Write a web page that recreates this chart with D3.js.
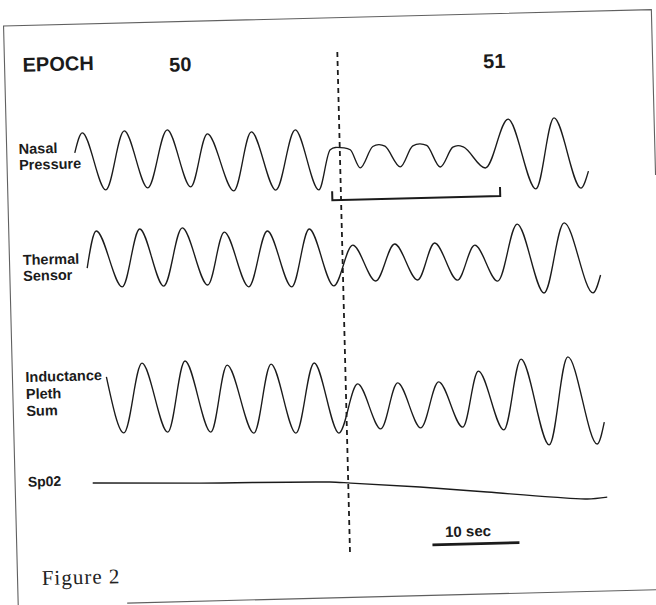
<!DOCTYPE html>
<html>
<head>
<meta charset="utf-8">
<script src="https://cdn.jsdelivr.net/npm/d3@7"></script>
<style>
  body { margin: 0; background: #fff; }
  svg { display: block; }
</style>
</head>
<body>
<svg id="chart" width="656" height="605"></svg>
<script>
// values: [seconds from start of epoch 50, amplitude]
const nasalPressure = [[-0.46,0.33],[0.46,0.99],[2.99,-0.93],[5.29,1.02],[7.82,-0.9],[10.23,1.02],[12.76,-0.9],
  [14.83,0.85],[17.7,-1.07],[19.89,0.88],[22.53,-1.08],[24.94,0.91],[27.47,-1.11],[28.9,0.22],[29.5,0.29],
  [30.5,0.27],[31.2,0.2],[32.3,-0.41],[33.8,0.29],[34.5,0.35],[35.2,0.29],[36.9,-0.41],[38.4,0.28],[39.2,0.34],
  [40.0,0.28],[41.49,-0.45],[43.0,0.2],[43.6,0.25],[44.2,0.2],[46.67,-0.52],[49.43,1.09],[52.41,-1.26],
  [54.71,1.09],[57.59,-1.27],[58.51,-0.71]];
const thermalSensor = [[0.63,-0.26],[1.78,1.01],[4.6,-0.94],[6.78,1.04],[9.37,-0.95],[11.67,1.04],[14.43,-0.95],
  [16.49,0.86],[19.14,-1.05],[21.44,0.86],[24.08,-1.09],[26.26,0.89],[28.91,-1.09],[31.21,0.3],[33.74,-0.96],
  [36.03,0.3],[38.56,-0.96],[40.63,0.3],[43.14,-1.0],[45.23,0.19],[47.76,-1.07],[50.17,0.88],[53.05,-1.52],
  [55.57,0.88],[58.68,-1.56],[59.6,-0.95]];
const inductancePleth = [[2.52,0.63],[4.36,-0.98],[6.65,1.0],[9.41,-0.99],[11.6,1.03],[14.36,-1.02],[16.43,0.88],
  [19.3,-1.08],[21.48,0.88],[24.13,-1.11],[26.44,0.88],[29.07,-1.14],[31.37,0.25],[33.9,-1.05],[35.97,0.25],
  [38.5,-1.05],[40.68,0.25],[43.32,-1.06],[45.28,0.53],[48.03,-1.17],[50.22,0.84],[53.2,-1.63],[55.6,0.87],
  [58.72,-1.64],[59.6,-1.02]];
const spo2 = [[0.64,95.43],[12.94,95.08],[27.89,94.8],[30.3,94.6],[38.23,93.89],[45.93,93.05],[53.52,92.21],
  [57.43,91.86],[59.72,92.04]];

const epochs = ["50", "51"];
const epochBoundary = 30;          // sec
const eventSpan = [29, 48.3];      // bracket under nasal pressure, sec
const scaleBarSpan = [39.5, 49.5]; // 10 sec
const channelLabels = [["Nasal", "Pressure"], ["Thermal", "Sensor"], ["Inductance", "Pleth", "Sum"], ["Sp02"]];

// layout (page is scanned slightly askew, so everything sits in a rotated group)
const svg = d3.select("#chart");
const g = svg.append("g").attr("transform", "rotate(-1.45,344,316)");
const ink = "#1b1b1b";

const x = d3.scaleLinear().domain([0, 60]).range([83, 605]);
const yNasal = d3.scaleLinear().domain([-1, 1]).range([186, 126]);
const yThermal = d3.scaleLinear().domain([-1, 1]).range([283, 225]);
const yInduct = d3.scaleLinear().domain([-1, 1]).range([428, 358]);
const ySpo2 = d3.scaleLinear().domain([90, 100]).range([520, 440]);

// page frame
const frame = g.append("g").attr("stroke", "#444").attr("stroke-width", 1.1).attr("fill", "none").attr("opacity", 0.85);
frame.append("path").attr("d", "M11,625V17.5H659V183");
frame.append("path").attr("d", "M120,597.5H690");

// traces
const traces = [
  [nasalPressure, yNasal],
  [thermalSensor, yThermal],
  [inductancePleth, yInduct],
  [spo2, ySpo2]
];
traces.forEach(([data, y]) => {
  const line = d3.line().x(d => x(d[0])).y(d => y(d[1])).curve(d3.curveMonotoneX);
  g.append("path")
    .datum(data)
    .attr("d", line)
    .attr("fill", "none")
    .attr("stroke", ink)
    .attr("stroke-width", 1.35)
    .attr("stroke-linejoin", "round");
});

// event bracket
const by = 200, tick = 9;
g.append("path")
  .attr("d", `M${x(eventSpan[0])},${by - tick}V${by}H${x(eventSpan[1])}V${by - tick}`)
  .attr("fill", "none").attr("stroke", ink).attr("stroke-width", 2);

// epoch boundary
g.append("line")
  .attr("x1", x(epochBoundary)).attr("x2", x(epochBoundary))
  .attr("y1", 52).attr("y2", 553)
  .attr("stroke", ink).attr("stroke-width", 1.8).attr("stroke-dasharray", "5,4");

// scale bar
g.append("line")
  .attr("x1", x(scaleBarSpan[0])).attr("x2", x(scaleBarSpan[1]))
  .attr("y1", 547).attr("y2", 547)
  .attr("stroke", ink).attr("stroke-width", 2.6);
g.append("text")
  .attr("x", x(scaleBarSpan[0]) + 13).attr("y", 539.6)
  .attr("font-family", "Liberation Sans, Arial, sans-serif")
  .attr("font-weight", "bold").attr("font-size", 15).attr("fill", ink)
  .text((scaleBarSpan[1] - scaleBarSpan[0]) + " sec");

// epoch header
const sans = "Liberation Sans, Arial, sans-serif";
g.append("text").attr("x", 29).attr("y", 63.6)
  .attr("font-family", sans).attr("font-weight", "bold").attr("font-size", 20).attr("fill", ink)
  .text("EPOCH");
const epochPos = [[175.5, 67.3], [489.6, 71.8]];
g.selectAll(".epoch").data(epochs).join("text")
  .attr("class", "epoch")
  .attr("x", (d, i) => epochPos[i][0]).attr("y", (d, i) => epochPos[i][1])
  .attr("font-family", sans).attr("font-weight", "bold").attr("font-size", 20).attr("fill", ink)
  .text(d => d);

// channel labels
const labelPos = [[23, 145.8, 16], [24.3, 256.9, 16], [24, 374, 17], [23.7, 478.7, 16]];
channelLabels.forEach((lines, i) => {
  const [lx, ly, dy] = labelPos[i];
  const t = g.append("text")
    .attr("font-family", sans).attr("font-weight", "bold")
    .attr("font-size", i === 3 ? 14 : 14.5).attr("fill", ink);
  lines.forEach((s, j) => {
    t.append("tspan").attr("x", lx).attr("y", ly + j * dy).text(s);
  });
});

// caption
g.append("text").attr("x", 35.2).attr("y", 577.4)
  .attr("font-family", "Liberation Serif, Times New Roman, serif")
  .attr("font-size", 21).attr("letter-spacing", 1).attr("fill", "#222")
  .text("Figure 2");
</script>
</body>
</html>
